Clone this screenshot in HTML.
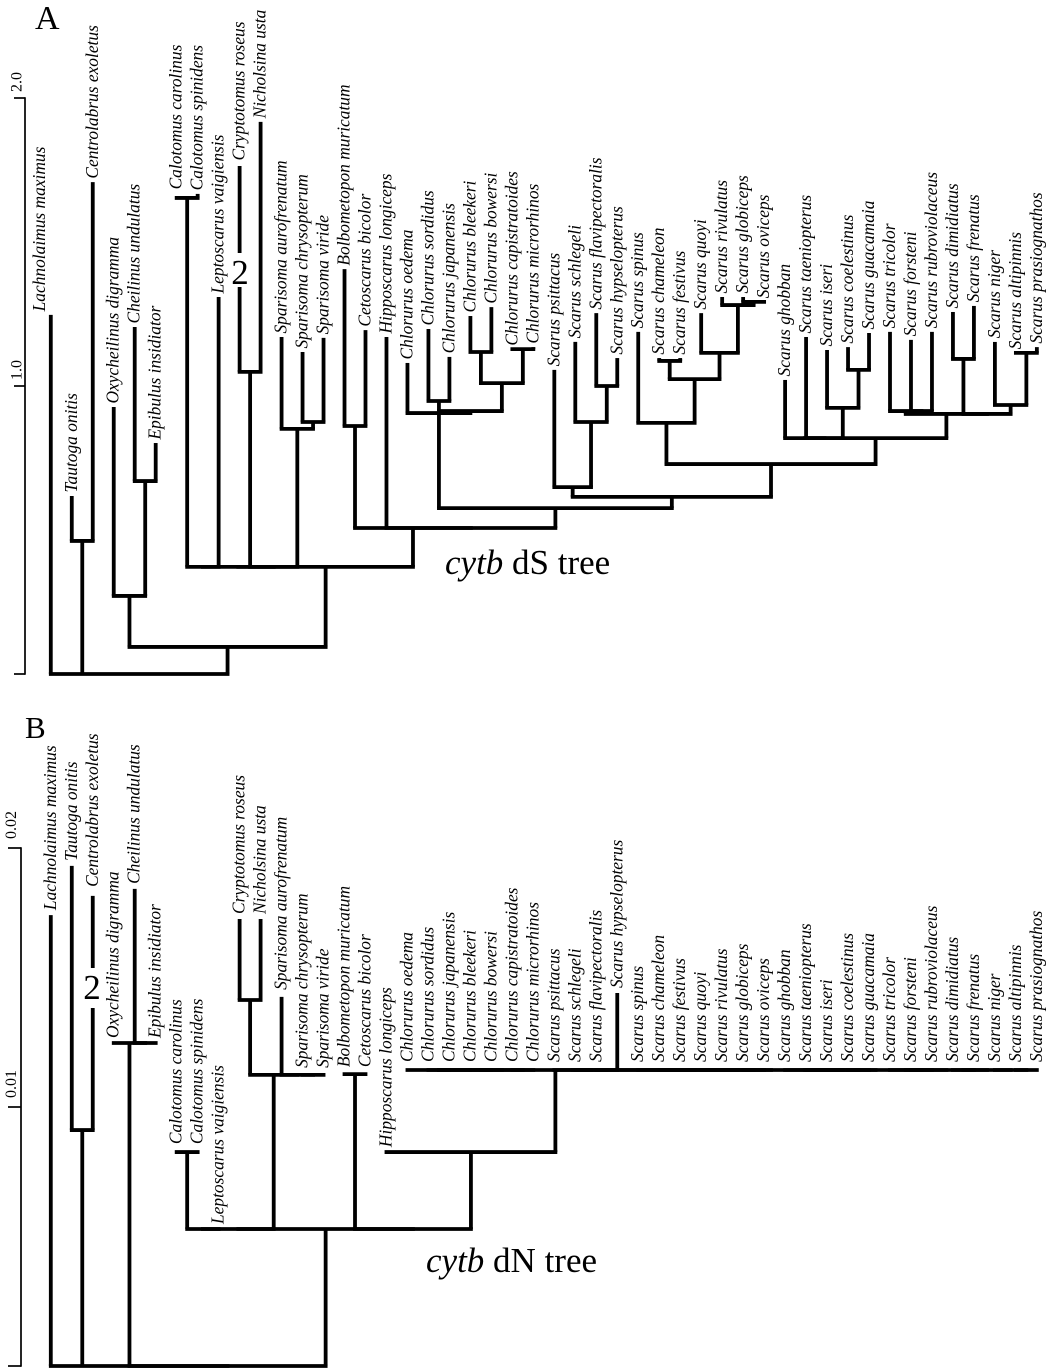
<!DOCTYPE html>
<html>
<head>
<meta charset="utf-8">
<title>cytb dS and dN trees</title>
<style>
html,body{margin:0;padding:0;background:#fff;}
svg{display:block;}
text{font-family:"Liberation Serif",serif;fill:#000;}
</style>
</head>
<body>
<svg id="fig" width="1050" height="1368" viewBox="0 0 1050 1368" xmlns="http://www.w3.org/2000/svg">
<rect x="0" y="0" width="1050" height="1368" fill="#fff"/>
<text x="35" y="29" font-size="34">A</text>
<text x="25" y="738" font-size="31">B</text>
<text x="445" y="574" font-size="35"><tspan font-style="italic">cytb</tspan> dS tree</text>
<text x="426" y="1272" font-size="35"><tspan font-style="italic">cytb</tspan> dN tree</text>
<g id="tree-a"></g>
<g id="tree-b"></g>
<rect x="230" y="253" width="20" height="34" fill="#fff"/>
<text x="240" y="284" font-size="35" text-anchor="middle">2</text>
<rect x="82" y="968" width="20" height="40" fill="#fff"/>
<text x="92" y="999" font-size="35" text-anchor="middle">2</text>
</svg>
<script>
const tipNames = ["Lachnolaimus maximus","Tautoga onitis","Centrolabrus exoletus","Oxycheilinus digramma","Cheilinus undulatus","Epibulus insidiator","Calotomus carolinus","Calotomus spinidens","Leptoscarus vaigiensis","Cryptotomus roseus","Nicholsina usta","Sparisoma aurofrenatum","Sparisoma chrysopterum","Sparisoma viride","Bolbometopon muricatum","Cetoscarus bicolor","Hipposcarus longiceps","Chlorurus oedema","Chlorurus sordidus","Chlorurus japanensis","Chlorurus bleekeri","Chlorurus bowersi","Chlorurus capistratoides","Chlorurus microrhinos","Scarus psittacus","Scarus schlegeli","Scarus flavipectoralis","Scarus hypselopterus","Scarus spinus","Scarus chameleon","Scarus festivus","Scarus quoyi","Scarus rivulatus","Scarus globiceps","Scarus oviceps","Scarus ghobban","Scarus taeniopterus","Scarus iseri","Scarus coelestinus","Scarus guacamaia","Scarus tricolor","Scarus forsteni","Scarus rubroviolaceus","Scarus dimidiatus","Scarus frenatus","Scarus niger","Scarus altipinnis","Scarus prasiognathos"];

// Topology: entry k is internal node 100+k; values below 100 refer to tips.
const nodeChildren = [[1,2],[4,5],[3,101],[6,7],[103,8],[9,10],[12,13],[11,106],[105,107],[104,108],[14,15],[18,19],[20,21],[22,23],[112,113],[111,114],[17,115],[26,27],[25,117],[24,118],[29,30],[33,34],[32,121],[31,122],[120,123],[28,124],[38,39],[37,126],[36,127],[35,128],[41,42],[40,130],[43,44],[46,47],[45,133],[132,134],[131,135],[129,136],[125,137],[119,138],[116,139],[16,140],[110,141],[109,142],[102,143],[0,100,144]];

// dS tree values
const tipHeightsA = [1.247,0.618,1.708,0.927,1.205,0.802,1.653,1.667,1.309,1.764,1.917,1.170,1.118,1.167,1.406,1.194,1.170,1.080,1.198,1.101,1.243,1.274,1.128,1.135,1.056,1.153,1.253,1.097,1.188,1.097,1.097,1.253,1.309,1.309,1.292,1.021,1.170,1.125,1.135,1.184,1.188,1.160,1.188,1.257,1.278,1.153,1.115,1.135];
const nodeHeightsA = [0.462,0.670,0.271,1.653,0.372,1.049,0.875,0.851,0.372,0.372,0.861,0.948,1.118,1.128,1.010,0.913,0.906,1.000,0.875,0.649,1.087,1.292,1.281,1.115,1.024,0.872,1.056,0.924,0.819,0.819,0.913,0.913,1.094,1.115,0.934,0.903,0.903,0.819,0.729,0.615,0.576,0.507,0.507,0.372,0.094,0];
const tickLabelsA = ["2.0","1.0"];
const tickValuesA = [2,1,0];

// dN tree values
const tipHeightsB = [0.01741,0.01931,0.01815,0.01247,0.01842,0.01247,0.00826,0.00826,0.00529,0.01726,0.01726,0.01425,0.01124,0.01124,0.01127,0.01127,0.00826,0.01143,0.01143,0.01143,0.01143,0.01143,0.01143,0.01143,0.01143,0.01143,0.01143,0.01440,0.01143,0.01143,0.01143,0.01143,0.01143,0.01143,0.01143,0.01143,0.01143,0.01143,0.01143,0.01143,0.01143,0.01143,0.01143,0.01143,0.01143,0.01143,0.01143,0.01143];
const nodeHeightsB = [0.00911,0.01247,0.01247,0.00826,0.00529,0.01413,0.01124,0.01124,0.01124,0.00529,0.01127,0.01143,0.01143,0.01143,0.01143,0.01143,0.01143,0.01143,0.01143,0.01143,0.01143,0.01143,0.01143,0.01143,0.01143,0.01143,0.01143,0.01143,0.01143,0.01143,0.01143,0.01143,0.01143,0.01143,0.01143,0.01143,0.01143,0.01143,0.01143,0.01143,0.01143,0.00826,0.00529,0.00529,0,0];
const tickLabelsB = ["0.02","0.01"];
const tickValuesB = [0.02,0.01,0];

const SVGNS = "http://www.w3.org/2000/svg";
const BRANCH = 3.8;

function xOfSlot(i){ return 50.8 + i * 20.98; }
function yScaleA(v){ return 674 - v * 288; }
function yScaleB(v){ return 1366 - v * 25900; }

function addLine(group, x1, y1, x2, y2, w, name){
  const el = document.createElementNS(SVGNS, "line");
  el.setAttribute("x1", x1);
  el.setAttribute("y1", y1);
  el.setAttribute("x2", x2);
  el.setAttribute("y2", y2);
  el.setAttribute("stroke", "#000");
  el.setAttribute("stroke-width", w);
  
  
  group.appendChild(el);
}

function addVerticalLabel(group, x, y, size, italic, str, name){
  const el = document.createElementNS(SVGNS, "text");
  el.setAttribute("transform", "translate(" + x + "," + y + ") rotate(-90)");
  el.setAttribute("font-size", size);
  if (italic) el.setAttribute("font-style", "italic");
  el.textContent = str;
  
  
  group.appendChild(el);
}

function slug(s){ return s.toLowerCase().replace(/\s+/g, "-"); }

function drawTree(group, tipH, nodeH, yScale, gap, labelShift, extraGap, prefix){
  const posX = {};
  const posH = {};
  tipH.forEach(function(h, i){ posX[i] = xOfSlot(i); posH[i] = h; });
  nodeChildren.forEach(function(kids, k){
    const id = 100 + k;
    const xs = kids.map(function(c){ return posX[c]; });
    posX[id] = (Math.min.apply(null, xs) + Math.max.apply(null, xs)) / 2;
    posH[id] = nodeH[k];
  });
  nodeChildren.forEach(function(kids, k){
    const id = 100 + k;
    const y = yScale(posH[id]);
    const xs = kids.map(function(c){ return posX[c]; });
    const left = Math.min.apply(null, xs) - BRANCH / 2;
    const right = Math.max.apply(null, xs) + BRANCH / 2;
    addLine(group, left, y, right, y, BRANCH, prefix + "-node-" + id + "-bar");
    kids.forEach(function(c){
      const yc = yScale(posH[c]);
      if (Math.abs(yc - y) > 0.5) {
        const label = c < 100 ? slug(tipNames[c]) : "node-" + c;
        addLine(group, posX[c], y, posX[c], yc, BRANCH, prefix + "-branch-" + label);
      }
    });
  });
  tipNames.forEach(function(n, i){
    const shift = labelShift[i] || 0;
    const extra = extraGap(i);
    addVerticalLabel(group, posX[i] + 5 + shift, yScale(tipH[i]) - gap - extra, 17.4, true, n, prefix + "-label-" + slug(n));
  });
}

function drawAxis(group, axisX, tickLeft, values, labels, yScale, labelX, labelGap, size, prefix){
  const yTop = yScale(values[0]);
  const yBot = yScale(values[values.length - 1]);
  addLine(group, axisX, yTop - 0.8, axisX, yBot + 0.8, 1.7, prefix + "-scale-axis");
  values.forEach(function(v, i){
    const y = yScale(v);
    addLine(group, tickLeft, y, axisX, y, 1.7, prefix + "-scale-tick-" + i);
    if (labels[i]) addVerticalLabel(group, labelX, y - labelGap, size, false, labels[i], prefix + "-scale-label-" + labels[i]);
  });
}

const gA = document.getElementById("tree-a");
const gB = document.getElementById("tree-b");
drawAxis(gA, 25, 14, tickValuesA, tickLabelsA, yScaleA, 21.5, 6, 16, "ds");
drawAxis(gB, 21, 8, tickValuesB, tickLabelsB, yScaleB, 16, 9, 16, "dn");
drawTree(gA, tipHeightsA, nodeHeightsA, yScaleA, 3.5, {0:-11}, function(i){
  if (i === 6) return 5;
  if (i === 9) return 2;
  return 0;
}, "ds");
drawTree(gB, tipHeightsB, nodeHeightsB, yScaleB, 5, {}, function(i){
  if (i === 2) return 4;
  if (i === 6 || i === 7) return 3;
  if (i >= 11 && i <= 15) return 2;
  if (i >= 17 && i !== 27) return 3;
  return 0;
}, "dn");
</script>
</body>
</html>
